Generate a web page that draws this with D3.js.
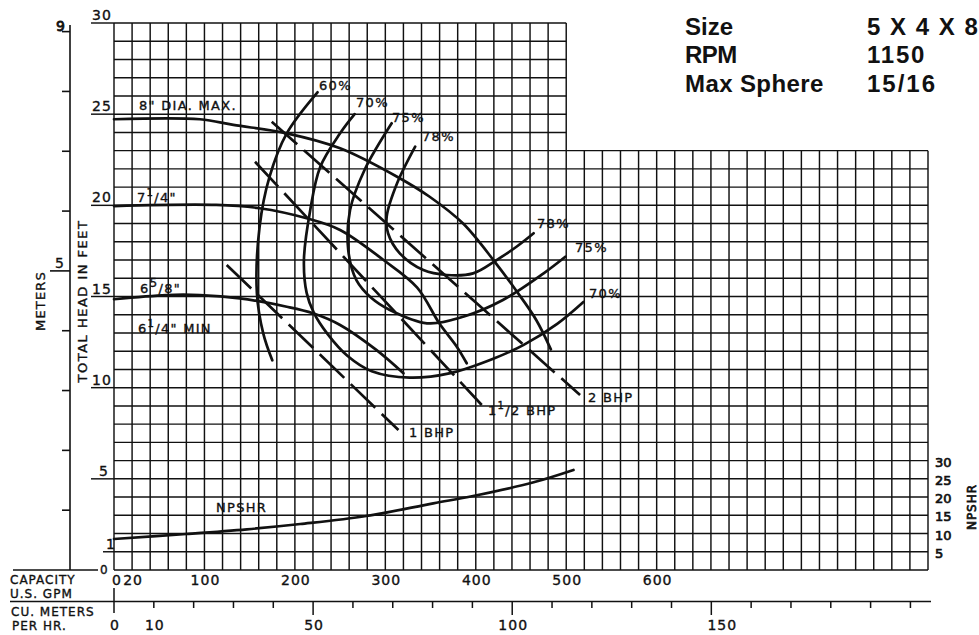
<!DOCTYPE html>
<html><head><meta charset="utf-8">
<script src="https://cdn.jsdelivr.net/npm/d3@7"></script>
<style>body{margin:0;background:#fff}svg{display:block}</style>
</head><body><svg id="c" width="979" height="635"></svg>
<script>
// ---------- data ----------
const headTicks = [30, 25, 20, 15, 10, 5, 1];
const gpmTicks = [0, 20, 100, 200, 300, 400, 500, 600];
const m3hLabels = [0, 10, 50, 100, 150];
const m3hMajor = [0, 50, 100, 150];
const meterTicks = [1, 2, 3, 4, 5, 6, 7, 8, 9];
const npshTicks = [5, 10, 15, 20, 25, 30];

// head-capacity curves [GPM, feet]
const dia8   = [[0,24.72],[95,24.72],[132,24.41],[191,23.95],[250,23.13],[313,21.57],[349,20.47],[386,19.0],[421,16.9],[445,15.3],[467,13.7],[483,12.1]];
const dia714 = [[0,19.96],[113,20.02],[161,19.84],[213,19.29],[250,18.65],[298,17.0],[335,15.5],[360,13.5],[379,12.25],[390,11.34]];
const dia658 = [[0,14.85],[58,15.08],[95,15.08],[139,14.9],[191,14.44],[220,14.08],[250,13.44],[290,12.07],[320,10.79]];

// efficiency curves [GPM, feet]
const eff60 = [[225,26.2],[191,23.95],[172,21.57],[161,18.83],[158,15.18],[165,12.98],[175,11.5]];
const eff70 = [[266,25.0],[250,23.95],[228,22.1],[217,19.75],[210,17.0],[213,15.2],[221,14.1],[236,12.95],[258,11.75],[285,10.9],[327,10.55],[372,10.8],[420,11.6],[453,12.35],[490,13.5],[519,14.7]];
const eff75 = [[307,24.5],[277,21.94],[261,19.74],[259,17.55],[268,15.9],[285,14.9],[305,14.26],[346,13.53],[386,13.89],[430,14.81],[475,16.27],[499,17.18]];
const eff78 = [[333,23.22],[313,21.21],[301.5,19.38],[303,18.47],[316,17.37],[342,16.45],[368,16.18],[397,16.27],[423,17.0],[445,17.73],[464,18.47]];

// brake horsepower lines [GPM, feet]
const bhp1  = [[124.6,16.73],[314.5,7.68]];
const bhp15 = [[155.9,22.39],[406.6,9.05]];
const bhp2  = [[174.4,24.59],[515.3,9.60]];

// NPSHR [GPM, feet NPSHR]
const npshr = [[0,8.5],[80,9.87],[147,11.16],[206,12.61],[279,14.81],[353,18.29],[397,20.29],[464,24.05],[508,27.42]];

// ---------- scales ----------
const svg = d3.select("#c");
const x = d3.scaleLinear().domain([0, 900]).range([114, 928]);
const y = d3.scaleLinear().domain([0, 30]).range([570, 23]);
const yM = d3.scaleLinear().domain([0, 30 / 3.28084]).range([570, 23]);
const yN = d3.scaleLinear().domain([0, 150]).range([570, 23]);
const xM = d3.scaleLinear().domain([0, 900 / 4.40287]).range([114, 928]);

const ink = "#111";
const F = "'DejaVu Sans', sans-serif";
const txt = (sel) => sel.attr("font-family", F).attr("fill", ink).attr("stroke", ink).attr("stroke-width", 0.35);

// ---------- grid ----------
const g = svg.append("g").attr("stroke", ink).attr("stroke-width", 1.45).attr("fill", "none");
const vCols = d3.range(0, 901, 20);
g.selectAll("line.v").data(vCols).join("line")
  .attr("x1", d => x(d)).attr("x2", d => x(d))
  .attr("y1", d => d <= 500 ? y(30) : y(23)).attr("y2", y(0));
const hRows = d3.range(0, 31, 1);
g.selectAll("line.h").data(hRows).join("line")
  .attr("y1", d => y(d)).attr("y2", d => y(d))
  .attr("x1", x(0)).attr("x2", d => d <= 23 ? x(900) : x(500));

// head axis labels + extended lines
g.selectAll("line.ht").data(headTicks).join("line")
  .attr("x1", d => d === 1 ? 103 : 91).attr("x2", x(0))
  .attr("y1", d => y(d)).attr("y2", d => y(d));
txt(svg.selectAll("text.ht").data(headTicks).join("text"))
  .attr("x", d => d === 1 ? 106 : (d < 10 ? 99 : 92)).attr("y", d => y(d) - 3)
  .attr("font-size", 14).attr("letter-spacing", 1)
  .text(d => d);
txt(svg.append("text")).attr("x", 100).attr("y", 574).attr("font-size", 12).text("0");

// meters axis
svg.append("line").attr("x1", 70).attr("x2", 70).attr("y1", 25).attr("y2", y(0)).attr("stroke", ink).attr("stroke-width", 1.6);
svg.selectAll("line.mt").data(meterTicks).join("line")
  .attr("x1", d => d === 5 ? 50 : 62).attr("x2", 70)
  .attr("y1", d => yM(d)).attr("y2", d => yM(d)).attr("stroke", ink).attr("stroke-width", 1.6);
txt(svg.append("text")).attr("x", 56).attr("y", yM(9) - 1).attr("font-size", 14).attr("stroke-width", 0.8).text("9");
txt(svg.append("text")).attr("x", 55).attr("y", yM(5) - 3).attr("font-size", 14).text("5");
txt(svg.append("text")).attr("transform", "translate(45,301) rotate(-90)").attr("text-anchor", "middle")
  .attr("font-size", 13).attr("letter-spacing", 1.2).text("METERS");
txt(svg.append("text")).attr("transform", "translate(87,301) rotate(-90)").attr("text-anchor", "middle")
  .attr("font-size", 13).attr("letter-spacing", 1.5).text("TOTAL HEAD IN FEET");

// bottom capacity axes
svg.append("line").attr("x1", 13).attr("x2", 98).attr("y1", y(0)).attr("y2", y(0)).attr("stroke", ink).attr("stroke-width", 1.5);
svg.append("line").attr("x1", 10).attr("x2", 931).attr("y1", 601.5).attr("y2", 601.5).attr("stroke", ink).attr("stroke-width", 1.6);
const lab = (t, xx, yy) => txt(svg.append("text")).attr("x", xx).attr("y", yy).attr("font-size", 12).attr("letter-spacing", 1).text(t);
lab("CAPACITY", 10, 584); lab("U.S. GPM", 10, 598); lab("CU. METERS", 11, 616); lab("PER HR.", 12, 630);
txt(svg.selectAll("text.gpm").data(gpmTicks).join("text"))
  .attr("x", d => d === 0 ? x(0) + 3 : x(d) + 1).attr("y", 585).attr("text-anchor", "middle")
  .attr("font-size", 14).attr("letter-spacing", 1).text(d => d);
svg.selectAll("line.m3").data(d3.range(0, 201, 10)).join("line")
  .attr("x1", d => xM(d)).attr("x2", d => xM(d))
  .attr("y1", d => d === 0 ? 588 : 601.5).attr("y2", d => d === 0 ? 613 : (m3hMajor.includes(d) ? 615 : 608))
  .attr("stroke", ink).attr("stroke-width", 1.5);
txt(svg.selectAll("text.m3").data(m3hLabels).join("text"))
  .attr("x", d => xM(d) + (d === 150 ? 11 : 1)).attr("y", 630).attr("text-anchor", "middle")
  .attr("font-size", 14).attr("letter-spacing", 1).text(d => d);

// NPSHR right axis
txt(svg.selectAll("text.np").data(npshTicks).join("text"))
  .attr("x", 935).attr("y", d => yN(d) + 6)
  .attr("font-size", 13).attr("stroke-width", 0.7).text(d => d);
txt(svg.append("text")).attr("transform", "translate(976,507) rotate(-90)").attr("text-anchor", "middle")
  .attr("font-size", 12).attr("stroke-width", 0.7).attr("letter-spacing", 1).text("NPSHR");

// ---------- curves ----------
const line = d3.line().x(d => x(d[0])).y(d => y(d[1])).curve(d3.curveCatmullRom.alpha(0.5));
const lineN = d3.line().x(d => x(d[0])).y(d => yN(d[1])).curve(d3.curveCatmullRom.alpha(0.5));
const cg = svg.append("g").attr("fill", "none").attr("stroke", ink).attr("stroke-linecap", "round");
[dia8, dia714, dia658].forEach(d => cg.append("path").attr("d", line(d)).attr("stroke-width", 2.7));
[eff60, eff70, eff75, eff78].forEach(d => cg.append("path").attr("d", line(d)).attr("stroke-width", 2.7));
[bhp1, bhp15, bhp2].forEach(d => cg.append("path").attr("d", line(d)).attr("stroke-width", 2.7).attr("stroke-dasharray", "34,9").attr("stroke-linecap", "butt"));
cg.append("path").attr("d", lineN(npshr)).attr("stroke-width", 2.7);

// ---------- curve labels ----------
const T = (xx, yy, size = 13) => txt(svg.append("text")).attr("x", xx).attr("y", yy)
  .attr("font-size", size).attr("letter-spacing", 1.3);
T(139, 110).text('8" DIA. MAX.');
let t = T(137, 202); t.append("tspan").text("7"); t.append("tspan").attr("font-size", 10).attr("dy", -6).text("1"); t.append("tspan").attr("dy", 6).text('/4"');
t = T(140, 293); t.append("tspan").text("6"); t.append("tspan").attr("font-size", 12).attr("dy", -6).text("5"); t.append("tspan").attr("dy", 6).text('/8"');
t = T(138, 333); t.append("tspan").text("6"); t.append("tspan").attr("font-size", 10).attr("dy", -6).text("1"); t.append("tspan").attr("dy", 6).text('/4" MIN');
T(216, 512).text("NPSHR");
T(319, 90).text("60%");
T(356, 107).text("70%");
T(392, 122).text("75%");
T(422, 141).text("78%");
T(537, 228).text("78%");
T(575, 252).text("75%");
T(589, 298).text("70%");
T(409, 437).text("1 BHP");
t = T(488, 415); t.append("tspan").text("1"); t.append("tspan").attr("font-size", 10).attr("dy", -6).text("1"); t.append("tspan").attr("dy", 6).text("/2 BHP");
T(588, 402).text("2 BHP");

// ---------- title block ----------
const H = (tx, xx, yy, ls) => svg.append("text").attr("x", xx).attr("y", yy)
  .attr("font-family", "'Liberation Sans', Arial, sans-serif").attr("font-weight", "bold")
  .attr("font-size", 24).attr("letter-spacing", ls).attr("fill", ink).text(tx);
H("Size", 685, 35, 0); H("5 X 4 X 8", 867, 35, 1.5);
H("RPM", 685, 63, -0.5); H("1150", 867, 63, 1.8);
H("Max Sphere", 685, 92, 0.4); H("15/16", 867, 92, 2);
</script></body></html>
